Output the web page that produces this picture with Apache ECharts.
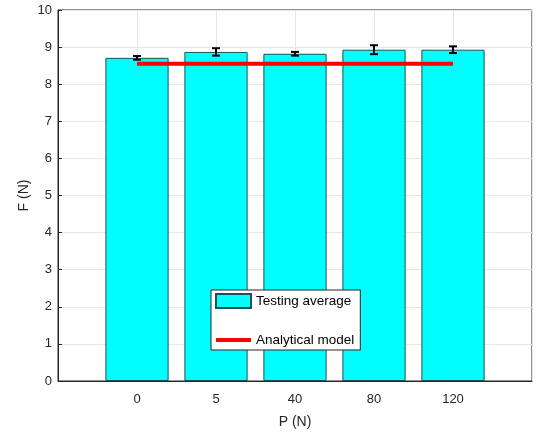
<!DOCTYPE html>
<html><head><meta charset="utf-8">
<script src="https://cdn.jsdelivr.net/npm/echarts@6/dist/echarts.min.js"></script>
<style>html,body{margin:0;padding:0;background:#fff}#c{width:536px;height:435px}</style>
</head><body><div id="c"></div>
<script>
const categories = ['0', '5', '40', '80', '120'];
const testingAverage = [8.71, 8.87, 8.82, 8.93, 8.93];
const errorHalf = [0.05, 0.10, 0.05, 0.12, 0.09];
const analyticalModel = [8.55, 8.55, 8.55, 8.55, 8.55];
const yTicks = [0,1,2,3,4,5,6,7,8,9,10];

// pad the category axis with empty slots so bars sit at positions 1..5 of 0..6
const axisCats = [''].concat(categories).concat(['']);
const pad = arr => ['-'].concat(arr).concat(['-']);
const errData = categories.map((c, i) => [i + 1, testingAverage[i] - errorHalf[i], testingAverage[i] + errorHalf[i]]);

const font = 'Liberation Sans, Arial, Helvetica, sans-serif';
const chart = echarts.init(document.getElementById('c'));
chart.setOption({
  animation: false,
  grid: {left: 58, right: 4, top: 10, bottom: 54, show: true, borderColor: '#262626', borderWidth: 1},
  xAxis: {
    type: 'category', data: axisCats, boundaryGap: false,
    name: 'P (N)', nameLocation: 'middle', nameGap: 34,
    nameTextStyle: {fontFamily: font, fontSize: 14, color: '#262626'},
    axisLine: {lineStyle: {color: '#262626'}},
    axisTick: {show: false},
    axisLabel: {fontFamily: font, fontSize: 13, color: '#262626', margin: 12, interval: 0},
    splitLine: {show: true, lineStyle: {color: '#e6e6e6', width: 1}}
  },
  yAxis: {
    type: 'value', min: yTicks[0], max: yTicks[yTicks.length - 1], interval: 1,
    name: 'F (N)', nameLocation: 'middle', nameGap: 27, nameMoveOverlap: false,
    nameTextStyle: {fontFamily: font, fontSize: 14, color: '#262626'},
    axisLine: {show: true, lineStyle: {color: '#262626'}},
    axisTick: {show: true, inside: true, length: 4, lineStyle: {color: '#262626'}},
    axisLabel: {fontFamily: font, fontSize: 13, color: '#262626', margin: 6},
    splitLine: {show: true, lineStyle: {color: '#e6e6e6', width: 1}}
  },
  legend: {
    orient: 'vertical', left: 211, top: 290,
    itemWidth: 35, itemHeight: 14, itemGap: 24,
    padding: [3, 6, 3, 4],
    borderColor: '#262626', borderWidth: 1, backgroundColor: '#fff', borderRadius: 0,
    textStyle: {fontFamily: font, fontSize: 13.5, color: '#000'},
    data: [
      {name: 'Testing average', icon: 'rect'},
      {name: 'Analytical model', icon: 'path://M0,0L35,0L35,4L0,4Z'}
    ]
  },
  series: [
    {
      name: 'Testing average', type: 'bar', data: pad(testingAverage), barWidth: '80%',
      itemStyle: {color: '#00ffff', borderColor: '#1f4f4f', borderWidth: 1}, z: 2
    },
    {
      name: 'Analytical model', type: 'line', data: pad(analyticalModel), symbol: 'none',
      lineStyle: {color: '#ff0000', width: 4}, itemStyle: {color: '#ff0000'}, z: 3
    },
    {
      type: 'custom', data: errData, z: 4,
      renderItem: function (params, api) {
        const x = api.value(0);
        const lo = api.coord([x, api.value(1)]);
        const hi = api.coord([x, api.value(2)]);
        const hw = 4;
        const style = {stroke: '#000', lineWidth: 2};
        return {type: 'group', children: [
          {type: 'line', shape: {x1: lo[0], y1: lo[1], x2: hi[0], y2: hi[1]}, style},
          {type: 'line', shape: {x1: lo[0] - hw, y1: lo[1], x2: lo[0] + hw, y2: lo[1]}, style},
          {type: 'line', shape: {x1: hi[0] - hw, y1: hi[1], x2: hi[0] + hw, y2: hi[1]}, style}
        ]};
      }
    }
  ]
});
</script></body></html>
